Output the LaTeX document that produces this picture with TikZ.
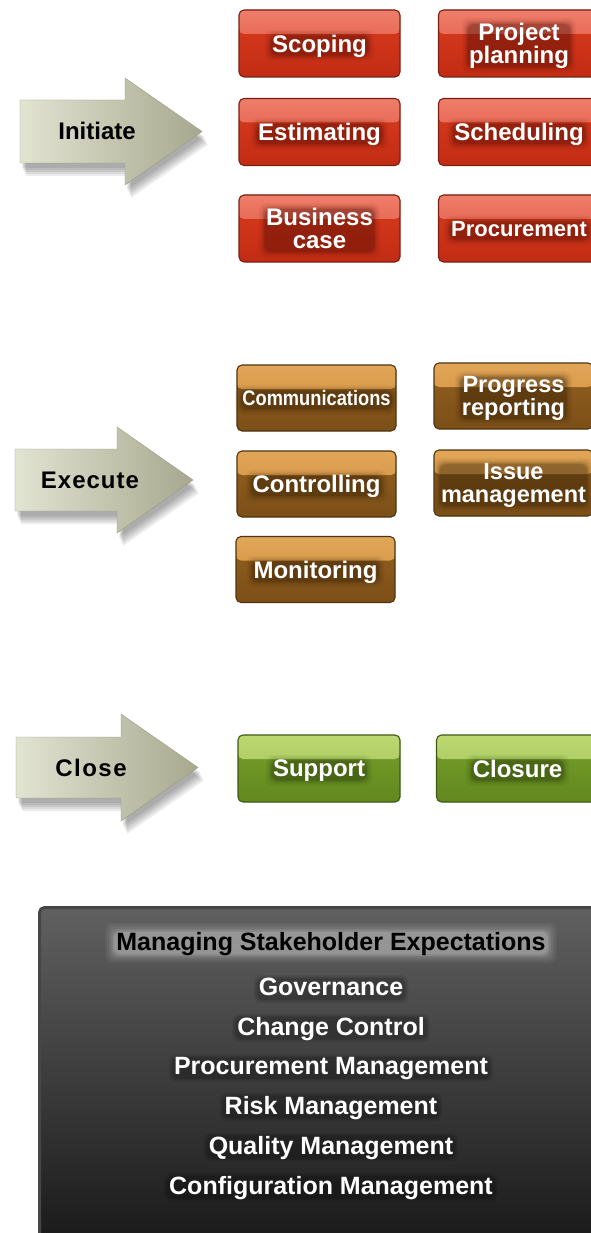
\documentclass[tikz,border=0pt]{standalone}
\usepackage{fontspec}
\setmainfont{Liberation Sans}
\definecolor{redB1}{HTML}{EE7E6A}
\definecolor{redB2}{HTML}{DC4C38}
\definecolor{redM1}{HTML}{D93C1E}
\definecolor{redM2}{HTML}{C22C14}
\definecolor{redE}{HTML}{7A2012}
\definecolor{redG}{HTML}{4A0C04}
\definecolor{brB1}{HTML}{E2A658}
\definecolor{brB2}{HTML}{CC8C3C}
\definecolor{brM1}{HTML}{93601F}
\definecolor{brM2}{HTML}{7C4F18}
\definecolor{brE}{HTML}{4E3410}
\definecolor{brG}{HTML}{2E1C06}
\definecolor{grB1}{HTML}{BCD872}
\definecolor{grB2}{HTML}{9CBE50}
\definecolor{grM1}{HTML}{77A02C}
\definecolor{grM2}{HTML}{62881E}
\definecolor{grE}{HTML}{3E5814}
\definecolor{grG}{HTML}{202E08}
\definecolor{arL}{HTML}{E2E4D2}
\definecolor{arR}{HTML}{A6A88E}
\definecolor{arE}{HTML}{9A9C84}
\definecolor{dkT}{HTML}{606060}
\definecolor{dkB}{HTML}{161616}
\definecolor{dkE}{HTML}{464646}

\pgfdeclarelayer{boxes}
\pgfdeclarelayer{glow}
\pgfsetlayers{boxes,glow,main}

\newcommand\arrowpath[6]{(#1,#4-#5) -- (#2,#4-#5) -- (#2,#4-#6) -- (#3,#4) -- (#2,#4+#6) -- (#2,#4+#5) -- (#1,#4+#5) -- cycle}
% soft halo behind a text node: colour, node name, list of radius/opacity
\newcommand\halo[3]{\foreach \r/\o in {#3}{%
  \fill[#1, opacity=\o, rounded corners=7pt]
    ([shift={(-\r pt-1pt,\r pt-1pt)}]#2.north west) rectangle ([shift={(\r pt+1pt,-\r pt-3pt)}]#2.south east);}}
% box: style, name, x, y, halo colour, extra text options, text
\newcommand\gbox[7]{%
  \begin{pgfonlayer}{boxes}\node[#1] (#2) at (#3,#4) {};\end{pgfonlayer}
  \node[boxtext, #6] (#2t) at (#2) {#7};
  \begin{pgfonlayer}{glow}\halo{#5}{#2t}{6/0.045,4.5/0.06,3/0.08,1.8/0.1,0.8/0.12,0/0.12}\end{pgfonlayer}}

\tikzset{
  boxbase/.style={rounded corners=5pt, line width=1.1pt, minimum width=161pt,
    minimum height=67pt, inner sep=0pt},
  boxtext/.style={inner sep=0pt, text=white, align=center, text depth=0pt,
    font=\bfseries\fontsize{24}{23}\selectfont},
  band/.style 2 args={path picture={\shade[top color=#1, bottom color=#2]
    (path picture bounding box.north west) rectangle ([yshift=-24pt]path picture bounding box.north east);}},
  redbox/.style={boxbase, draw=redE, top color=redM1, bottom color=redM2, band={redB1}{redB2}},
  brbox/.style={boxbase, minimum width=159pt, minimum height=66pt, draw=brE, top color=brM1, bottom color=brM2, band={brB1}{brB2}},
  grbox/.style={boxbase, minimum width=162pt, draw=grE, top color=grM1, bottom color=grM2, band={grB1}{grB2}},
  arrowfill/.style={left color=arL, right color=arR, draw=arE, line width=0.4pt},
  ashadow/.style={fill=black, opacity=0.075},
  arrowtext/.style={inner sep=0pt, text depth=0pt, text=black, font=\bfseries\fontsize{24}{24}\selectfont},
  dktext/.style={inner sep=0pt, text depth=0pt, text=white, font=\bfseries\fontsize{25}{25}\selectfont},
}

\begin{document}
\begin{tikzpicture}[x=1pt, y=-1pt]
\useasboundingbox (0,0) rectangle (591,1233);
\begin{pgfonlayer}{boxes}
\fill[white] (0,0) rectangle (591,1233);
\end{pgfonlayer}

% ---------- arrows ----------
\foreach \dx/\dy in {2/5,3/7,4/9,5/11,6/13}{
  \fill[ashadow, xshift=\dx pt, yshift=-\dy pt] \arrowpath{20}{125}{202}{131.5}{31.5}{53.5};
  \fill[ashadow, xshift=\dx pt, yshift=-\dy pt] \arrowpath{15}{117}{193}{480}{31}{53};
  \fill[ashadow, xshift=\dx pt, yshift=-\dy pt] \arrowpath{16}{121}{198}{767.5}{30.5}{53.5};
}
\shade[arrowfill] \arrowpath{20}{125}{202}{131.5}{31.5}{53.5};
\shade[arrowfill] \arrowpath{15}{117}{193}{480}{31}{53};
\shade[arrowfill] \arrowpath{16}{121}{198}{767.5}{30.5}{53.5};
\node[arrowtext] (tInit) at (97,131) {Initiate};
\node[arrowtext] (tExec) at (90,480) {E\kern1pt x\kern1pt e\kern1pt c\kern1pt u\kern1pt t\kern1pt e};
\node[arrowtext] (tClose) at (91,768) {C\kern1.5pt l\kern1.5pt o\kern1.5pt s\kern1.5pt e};

% ---------- initiate boxes ----------
\gbox{redbox}{scoping}{319.5}{43.5}{redG}{}{Scoping}
\gbox{redbox}{planning}{519}{43.5}{redG}{}{Project\\planning}
\gbox{redbox}{estimating}{319.5}{132}{redG}{}{Estimating}
\gbox{redbox}{scheduling}{519}{132}{redG}{}{Scheduling}
\gbox{redbox}{business}{319.5}{228.5}{redG}{}{Business\\case}
\gbox{redbox}{procurement}{519}{228.5}{redG}{font=\bfseries\fontsize{22}{22}\selectfont}{Procurement}

% ---------- execute boxes ----------
\gbox{brbox}{communications}{316.5}{398}{brG}{font=\bfseries\fontsize{21}{21}\selectfont}{\scalebox{0.87}[1]{Communications}}
\gbox{brbox}{progress}{513.5}{396}{brG}{font=\bfseries\fontsize{23.5}{23}\selectfont}{Progress\\reporting}
\gbox{brbox}{controlling}{316.5}{484}{brG}{}{Controlling}
\gbox{brbox}{issue}{513.5}{483}{brG}{font=\bfseries\fontsize{23.5}{23}\selectfont}{Issue\\management}
\gbox{brbox}{monitoring}{315.5}{569.5}{brG}{}{Monitoring}

% ---------- close boxes ----------
\gbox{grbox}{support}{319}{768.5}{grG}{}{Support}
\gbox{grbox}{closure}{517.5}{768.5}{grG}{}{Closure}

% ---------- dark panel ----------
\begin{pgfonlayer}{boxes}
\shade[rounded corners=5pt, top color=dkT, bottom color=dkB, draw=dkE, line width=3pt] (39.5,907.5) rectangle (640,1260);
\end{pgfonlayer}
\node[dktext, text=black] (hdr) at (331,941) {Managing Stakeholder Expectations};
\begin{pgfonlayer}{glow}\halo{white}{hdr}{10/0.04,8/0.05,6/0.06,4/0.08,2.5/0.1,1/0.12}\end{pgfonlayer}
\node[dktext] (gov) at (331,987) {Governance};
\node[dktext] (chg) at (331,1026) {Change Control};
\node[dktext] (proc) at (331,1066) {Procurement Management};
\node[dktext] (risk) at (331,1105) {Risk Management};
\node[dktext] (qual) at (331,1145) {Quality Management};
\node[dktext] (conf) at (331,1185) {Configuration Management};
\begin{pgfonlayer}{glow}
\foreach \n in {gov,chg,proc,risk,qual,conf}{\halo{black}{\n}{4/0.07,2.5/0.09,1/0.12}}
\end{pgfonlayer}
\end{tikzpicture}
\end{document}
